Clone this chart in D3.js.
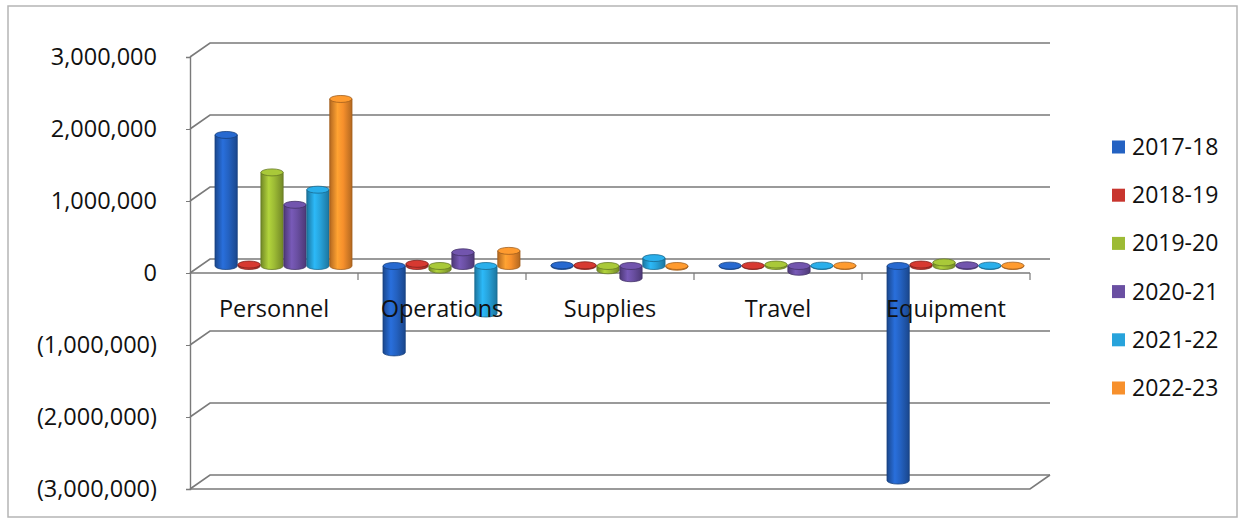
<!DOCTYPE html>
<html>
<head>
<meta charset="utf-8">
<script src="https://cdn.jsdelivr.net/npm/d3@7"></script>
<style>
  body { margin: 0; background: #fff; }
  #chart { width: 1241px; height: 527px; }
  text { font-family: "Open Sans", sans-serif; fill: #111; }
</style>
</head>
<body>
<div id="chart"></div>
<script>
// data
const categories = ["Personnel", "Operations", "Supplies", "Travel", "Equipment"];
const seriesNames = ["2017-18", "2018-19", "2019-20", "2020-21", "2021-22", "2022-23"];
const v2017 = [1820000, -1200000, 10000, 5000, -2980000];
const v2018 = [20000, 30000, 10000, 5000, 20000];
const v2019 = [1300000, -50000, -60000, 20000, 50000];
const v2020 = [850000, 190000, -170000, -80000, 10000];
const v2021 = [1060000, -660000, 110000, 5000, 5000];
const v2022 = [2320000, 210000, -10000, 5000, 5000];
const yTicks = [-3000000, -2000000, -1000000, 0, 1000000, 2000000, 3000000];

const seriesValues = [v2017, v2018, v2019, v2020, v2021, v2022];
const colors = ["#2462c2", "#c8352e", "#9dbb35", "#6a4fa2", "#27a3db", "#f7902c"];

const chart = document.querySelector("#chart");
const width = chart.offsetWidth;
const height = chart.offsetHeight;

const svg = d3.select("#chart")
  .append("svg")
  .attr("width", width)
  .attr("height", height);

// depth of the 3d box
const DX = 20, DY = -14;

const x = d3.scaleBand().domain(categories).range([190, 1030]);
const xs = d3.scaleBand().domain(seriesNames).range([15, 152]).paddingInner(0.03);
const y = d3.scaleLinear().domain([-3000000, 3000000]).range([489, 57]);

// outer frame
svg.append("rect")
  .attr("x", 8).attr("y", 6)
  .attr("width", 1229).attr("height", 511)
  .attr("fill", "none")
  .attr("stroke", "#b5b5b5")
  .attr("stroke-width", 1.5);

// gradients for the cylinders
const defs = svg.append("defs");
colors.forEach(function (c, i) {
  const g = defs.append("linearGradient").attr("id", "cyl" + i)
    .attr("x1", "0%").attr("x2", "100%").attr("y1", "0%").attr("y2", "0%");
  g.append("stop").attr("offset", "0%").attr("stop-color", d3.color(c).darker(0.9));
  g.append("stop").attr("offset", "35%").attr("stop-color", d3.color(c).brighter(0.35));
  g.append("stop").attr("offset", "60%").attr("stop-color", c);
  g.append("stop").attr("offset", "100%").attr("stop-color", d3.color(c).darker(0.9));
});

// back wall gridlines
const x0 = x.range()[0], x1 = x.range()[1];
svg.append("g")
  .selectAll("path")
  .data(yTicks)
  .join("path")
  .attr("d", d => `M${x0},${y(d)} L${x0 + DX},${y(d) + DY} L${x1 + DX},${y(d) + DY}`)
  .attr("fill", "none")
  .attr("stroke", "#7a7a7a")
  .attr("stroke-width", 1.6);

// floor
const yb = y(-3000000);
svg.append("path")
  .attr("d", `M${x0},${yb} L${x1},${yb} L${x1 + DX},${yb + DY}`)
  .attr("fill", "none")
  .attr("stroke", "#7a7a7a")
  .attr("stroke-width", 1.6);

// front category line at zero + ticks
svg.append("line")
  .attr("x1", x0).attr("x2", x1)
  .attr("y1", y(0)).attr("y2", y(0))
  .attr("stroke", "#7a7a7a").attr("stroke-width", 1.6);

svg.append("g")
  .selectAll("line")
  .data(categories)
  .join("line")
  .attr("x1", d => x(d) + x.bandwidth())
  .attr("x2", d => x(d) + x.bandwidth())
  .attr("y1", y(0)).attr("y2", y(0) + 7)
  .attr("stroke", "#7a7a7a").attr("stroke-width", 1.2);

// y axis
const fmt = d => d < 0 ? "(" + d3.format(",")(-d) + ")" : d3.format(",")(d);
const yAxis = svg.append("g")
  .attr("transform", `translate(${x0},0)`)
  .call(d3.axisLeft(y).tickValues(yTicks).tickSize(4).tickPadding(29).tickFormat(fmt));
yAxis.select(".domain").attr("stroke", "#7a7a7a").attr("stroke-width", 1.4);
yAxis.selectAll(".tick line").attr("stroke", "#7a7a7a");
yAxis.selectAll("text")
  .attr("font-size", 23.5)
  .attr("font-family", "Open Sans, sans-serif")
  .attr("fill", "#111");

// bars as cylinders, at mid depth
const bars = [];
categories.forEach(function (c, j) {
  seriesNames.forEach(function (s, i) {
    bars.push({ cat: c, series: s, i: i, value: seriesValues[i][j] });
  });
});

const ry = 3.5;
const bw = xs.bandwidth();
const g = svg.append("g");
const bar = g.selectAll("g").data(bars).join("g");

bar.append("path")
  .attr("d", function (d) {
    const bx = x(d.cat) + DX / 2 + xs(d.series);
    const yt = y(Math.max(d.value, 0)) + DY / 2;
    const yb = y(Math.min(d.value, 0)) + DY / 2;
    return `M${bx},${yt} L${bx},${yb} A${bw / 2},${ry} 0 0 0 ${bx + bw},${yb} L${bx + bw},${yt} Z`;
  })
  .attr("fill", d => `url(#cyl${d.i})`)
  .attr("stroke", d => d3.color(colors[d.i]).darker(1.2))
  .attr("stroke-width", 0.8);

bar.append("ellipse")
  .attr("cx", d => x(d.cat) + DX / 2 + xs(d.series) + bw / 2)
  .attr("cy", d => y(Math.max(d.value, 0)) + DY / 2)
  .attr("rx", bw / 2)
  .attr("ry", ry)
  .attr("fill", d => d3.color(colors[d.i]).brighter(0.2))
  .attr("stroke", d => d3.color(colors[d.i]).darker(1.2))
  .attr("stroke-width", 0.8);

// category labels, drawn over the bars
svg.append("g")
  .selectAll("text")
  .data(categories)
  .join("text")
  .attr("x", d => x(d) + x.bandwidth() / 2)
  .attr("y", 317)
  .attr("text-anchor", "middle")
  .attr("font-size", 23.5)
  .text(d => d);

// legend
const legend = svg.append("g")
  .selectAll("g")
  .data(seriesNames)
  .join("g")
  .attr("transform", (d, i) => `translate(1112,${147 + i * 48.2})`);

legend.append("rect")
  .attr("x", 0).attr("y", -6.5)
  .attr("width", 13).attr("height", 13)
  .attr("fill", (d, i) => colors[i]);

legend.append("text")
  .attr("x", 20)
  .attr("y", 8)
  .attr("font-size", 23)
  .text(d => d);
</script>
</body>
</html>
